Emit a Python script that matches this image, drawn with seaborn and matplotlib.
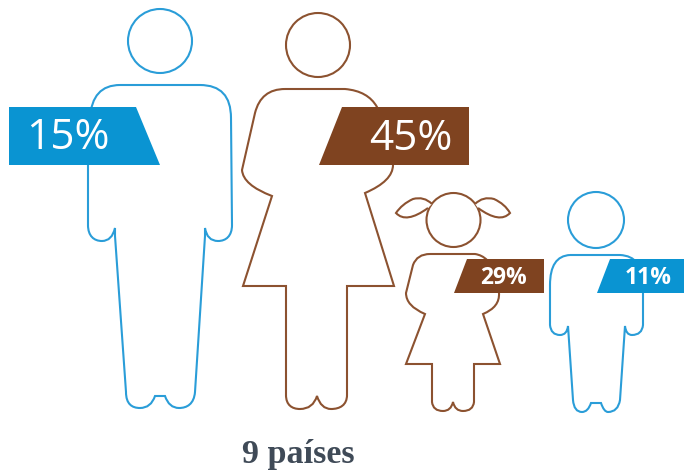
import matplotlib
matplotlib.use("Agg")
import matplotlib.pyplot as plt
from matplotlib.patches import Circle, PathPatch, Polygon
from matplotlib.path import Path
import seaborn as sns

sns.set_theme(style="white")

# ---- data ----
groups = ["hombres", "mujeres", "niñas", "niños"]
values = [15, 45, 29, 11]
footer = "9 países"
BLUE, BROWN = "#0A94D2", "#7F4320"
LINE_BLUE, LINE_BROWN = "#2A9DD8", "#8C5230"
colors = [BLUE, BROWN, BROWN, BLUE]
line_colors = [LINE_BLUE, LINE_BROWN, LINE_BROWN, LINE_BLUE]

# ---- pictogram geometry (pixel space of the drawing) ----
heads = [(160, 41, 32), (318, 45, 32), (453.5, 220, 27), (596, 220, 28)]

man = [("M", (120, 85)), ("L", (200, 85)), ("Q", (231, 85), (231, 118)), ("L", (232, 225)),
       ("C", (232, 236), (226, 241), (218, 241)), ("Q", (207, 241), (205, 228)),
       ("L", (205, 236)), ("L", (195, 392)), ("C", (194, 404), (187, 408), (179, 408)),
       ("Q", (169, 408), (165, 396)), ("L", (155, 396)), ("Q", (151, 408), (140, 408)),
       ("C", (132, 408), (126, 404), (126, 392)), ("L", (115, 236)), ("L", (115, 228)),
       ("Q", (112, 241), (102, 241)), ("C", (94, 241), (88, 236), (88, 225)),
       ("L", (88, 165)), ("L", (90, 118)), ("Q", (92, 85), (120, 85))]

woman = [("M", (285, 89)), ("L", (345, 89)), ("Q", (368, 91), (377, 107)),
         ("L", (393, 165)), ("Q", (393, 181), (365, 193)), ("L", (394, 286)), ("L", (347, 286)),
         ("L", (347, 395)), ("C", (347, 405), (340, 409), (331, 409)),
         ("Q", (321, 409), (317, 396)), ("Q", (313, 409), (300, 409)),
         ("C", (292, 409), (286, 405), (286, 395)), ("L", (286, 286)), ("L", (243, 286)),
         ("L", (272, 196)), ("Q", (243, 185), (242, 170)), ("L", (255, 113)),
         ("Q", (261, 89), (285, 89))]

girl = [("M", (430, 254)), ("L", (475, 254)), ("Q", (482, 255), (487, 260)),
        ("L", (499, 293)), ("Q", (500, 307), (483, 314)), ("L", (500, 364)), ("L", (474, 364)),
        ("L", (474, 402)), ("Q", (473, 411), (463, 411)), ("Q", (455, 411), (453, 402)),
        ("Q", (451, 411), (443, 411)), ("Q", (433, 411), (432, 402)), ("L", (432, 364)),
        ("L", (406, 364)), ("L", (425, 314)), ("Q", (406, 306), (406, 293)),
        ("L", (413, 265)), ("Q", (417, 254), (430, 254))]

boy = [("M", (570, 255)), ("L", (620, 255)), ("Q", (643, 256), (643, 285)), ("L", (643, 325)),
       ("Q", (642, 335), (632, 335)), ("Q", (626, 335), (625, 326)), ("L", (620, 400)),
       ("Q", (618, 412), (608, 412)), ("Q", (604, 412), (601, 403)), ("L", (591, 403)),
       ("Q", (588, 412), (582, 412)), ("Q", (574, 412), (573, 400)), ("L", (568, 326)),
       ("Q", (567, 335), (560, 335)), ("Q", (551, 335), (550, 325)), ("L", (550, 285)),
       ("Q", (550, 256), (570, 255))]

pigtail_left = [("M", (432, 204)), ("Q", (424, 196), (413, 199)), ("Q", (402, 204), (396, 213)),
                ("Q", (406, 224), (428, 208))]
pigtail_right = [("M", (475, 204)), ("Q", (483, 196), (494, 199)), ("Q", (505, 204), (510, 213)),
                 ("Q", (500, 224), (478, 208))]

badges = [[(9, 107), (136, 107), (160, 165), (9, 165)],
          [(342, 107), (469, 107), (469, 165), (319, 165)],
          [(467, 259), (544, 259), (544, 293), (454, 293)],
          [(610, 259), (684, 259), (684, 293), (597, 293)]]
label_xy = [(68, 138), (411, 139), (504, 278), (648, 278)]
label_size = [30.5, 30.5, 16.5, 16.5]
label_weight = ["normal", "normal", "bold", "bold"]


def to_path(spec):
    verts, codes = [], []
    for seg in spec:
        kind, pts = seg[0], seg[1:]
        verts.extend(pts)
        codes.extend({"M": [Path.MOVETO], "L": [Path.LINETO], "Q": [Path.CURVE3] * 2,
                      "C": [Path.CURVE4] * 3}[kind])
    return Path(verts, codes)


fig = plt.figure(figsize=(6.84, 4.74), dpi=100)
ax = fig.add_axes([0, 0, 1, 1])
ax.set_xlim(0, 684)
ax.set_ylim(474, 0)
ax.axis("off")

LW = 1.5
for body, head, lc in zip([man, woman, girl, boy], heads, line_colors):
    ax.add_patch(PathPatch(to_path(body), fc="white", ec=lc, lw=LW, zorder=2))
    ax.add_patch(Circle(head[:2], head[2], fc="white", ec=lc, lw=LW, zorder=2))
for tail in (pigtail_left, pigtail_right):
    ax.add_patch(PathPatch(to_path(tail), fc="white", ec=LINE_BROWN, lw=LW, zorder=3))

for val, poly, col, xy, fs, fw in zip(values, badges, colors, label_xy, label_size, label_weight):
    ax.add_patch(Polygon(poly, closed=True, fc=col, ec="none", zorder=4))
    ax.text(xy[0], xy[1], f"{val}%", color="white", fontsize=fs, fontweight=fw,
            family="Open Sans", ha="center", va="center", zorder=5)

ax.text(298, 455, footer, family="Liberation Serif", fontweight="bold", fontsize=24.5,
        color="#3F4A57", ha="center", va="center")

fig.savefig("out.png", dpi=100, facecolor="white")
